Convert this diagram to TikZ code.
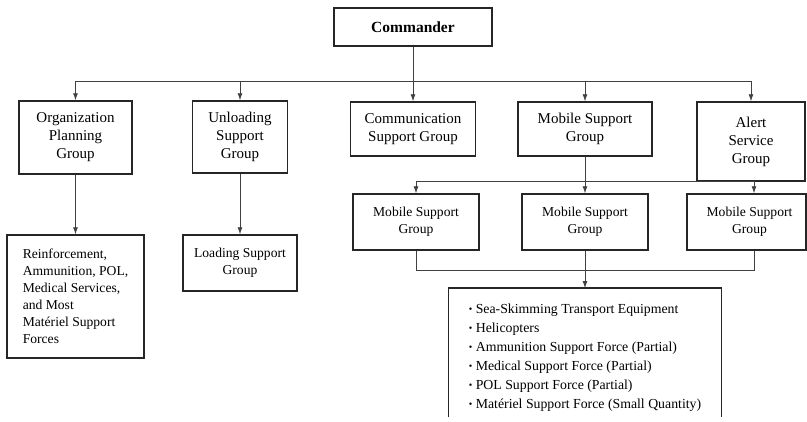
\documentclass[tikz,border=0pt]{standalone}
\usepackage{fontspec}
\setmainfont{Liberation Serif}
\usetikzlibrary{arrows.meta}
\newcommand\lbul{\raisebox{1pt}{\fontsize{10}{10}\selectfont\textbullet}\ }
\begin{document}
\begin{tikzpicture}[x=1pt,y=-1pt,
 box/.style={draw=black!85, line width=1.5pt, inner sep=0pt, align=center},
 big/.style={box, font=\fontsize{15}{18}\selectfont},
 sml/.style={box, font=\fontsize{13.6}{17}\selectfont},
 conn/.style={draw=black!75, line width=0.8pt},
 arr/.style={conn, -{Latex[length=7pt,width=5pt]}}]
\useasboundingbox (0,0) rectangle (807,421);

\node[box, font=\bfseries\fontsize{15.5}{18}\selectfont, minimum width=158pt, minimum height=38pt] (cmd) at (413,27) {Commander};

\node[big, minimum width=113pt, minimum height=73pt] (org) at (75.5,137.5) {Organization\\Planning\\Group};
\node[big, minimum width=95pt, minimum height=72pt] (unl) at (240,137) {Unloading\\Support\\Group};
\node[big, minimum width=125pt, minimum height=54pt] (com) at (413,129) {Communication\\Support Group};
\node[big, minimum width=134pt, minimum height=54pt] (mob) at (585,129) {Mobile Support\\Group};
\node[big, minimum width=108pt, minimum height=79pt] (alert) at (751,141.5) {Alert\\Service\\Group};

\node[sml, align=left, minimum width=137pt, minimum height=123pt] (rein) at (75.5,296.5) {Reinforcement,\\Ammunition, POL,\\Medical Services,\\and Most\\Mat\'eriel Support\\Forces};
\node[sml, minimum width=114pt, minimum height=56pt] (load) at (240,263) {Loading Support\\Group};

\node[sml, minimum width=126pt, minimum height=56pt] (m1) at (416,222) {Mobile Support\\Group};
\node[sml, minimum width=126pt, minimum height=56pt] (m2) at (585,222) {Mobile Support\\Group};
\node[sml, minimum width=119pt, minimum height=56pt] (m3) at (746.5,222) {\hspace*{6pt}Mobile Support\\\hspace*{6pt}Group};

\node[inner sep=0pt, anchor=north, minimum width=273pt, minimum height=129pt] (lst) at (585,288) {};
\node[inner sep=0pt, align=left, font=\fontsize{13.8}{19}\selectfont] (lsttxt) at ([yshift=-5pt]lst.center)
 {\lbul Sea-Skimming Transport Equipment\\
  \lbul Helicopters\\
  \lbul Ammunition Support Force (Partial)\\
  \lbul Medical Support Force (Partial)\\
  \lbul POL Support Force (Partial)\\
  \lbul Mat\'eriel Support Force (Small Quantity)};
\draw[draw=black!85, line width=1.5pt] (lst.south west) -- (lst.north west) -- (lst.north east) -- (lst.south east);

% connectors
\coordinate (hy) at (0,81);
\draw[conn] (cmd.south) -- (cmd.south |- hy);
\draw[conn] (org.north |- hy) -- (alert.north |- hy);
\foreach \n in {org,unl,com,mob,alert} \draw[arr] (\n.north |- hy) -- (\n.north);

\draw[arr] (org.south) -- (rein.north);
\draw[arr] (unl.south) -- (load.north);

\coordinate (hy2) at (0,181);
\coordinate (m3t) at ([xshift=7.5pt]m3.north);
\coordinate (m3b) at ([xshift=7.5pt]m3.south);
\draw[conn] (mob.south) -- (mob.south |- hy2);
\draw[conn] (m1.north |- hy2) -- (m3t |- hy2);
\draw[arr] (m1.north |- hy2) -- (m1.north);
\draw[arr] (m2.north |- hy2) -- (m2.north);
\draw[arr] (m3t |- hy2) -- (m3t);

\coordinate (hy3) at (0,270);
\draw[conn] (m1.south) -- (m1.south |- hy3) -- (m3b |- hy3) -- (m3b);
\draw[conn] (m2.south) -- (m2.south |- hy3);
\draw[arr] (m2.south |- hy3) -- (lst.north);
\end{tikzpicture}
\end{document}
